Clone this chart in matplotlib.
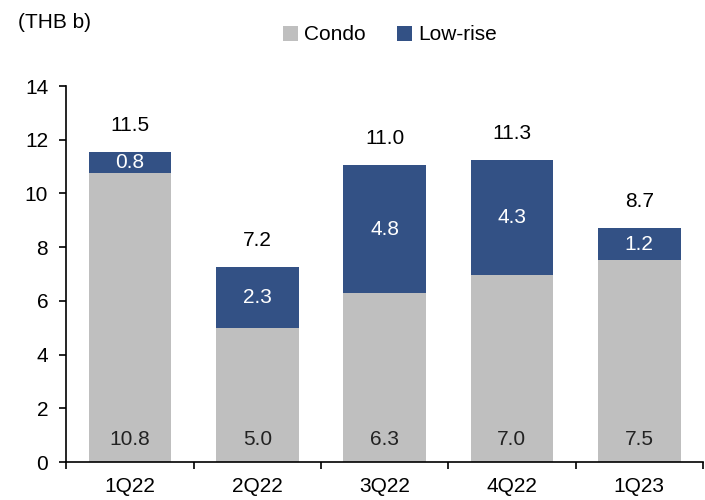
import numpy as np
import matplotlib.pyplot as plt

plt.rcParams['font.family'] = ['Liberation Sans', 'DejaVu Sans']

# Datos
quarters = ['1Q22', '2Q22', '3Q22', '4Q22', '1Q23']
condo = [10.76, 4.98, 6.29, 6.97, 7.52]
lowrise = [0.77, 2.27, 4.75, 4.26, 1.19]
totals = [11.5, 7.2, 11.0, 11.3, 8.7]

c_condo = '#BFBFBF'
c_low = '#335185'

fig = plt.figure(figsize=(7.05, 5.0), dpi=100)
ax = fig.add_axes([0.094, 0.076, 0.903, 0.752])

x = np.arange(len(quarters))
w = 0.65
ax.bar(x, condo, w, color=c_condo, label='Condo')
ax.bar(x, lowrise, w, bottom=condo, color=c_low, label='Low-rise')

fs = 15
for i in range(len(x)):
    ax.text(x[i], 0.85, f'{condo[i]:.1f}', ha='center', va='center', fontsize=fs, color='#222222')
    ax.text(x[i], condo[i] + lowrise[i] / 2, f'{lowrise[i]:.1f}', ha='center', va='center',
            fontsize=fs, color='white')
    ax.text(x[i], condo[i] + lowrise[i] + 1.0, f'{totals[i]:.1f}', ha='center', va='center',
            fontsize=fs, color='black')

ax.set_xlim(-0.5, len(x) - 0.5)
ax.set_ylim(0, 14)
ax.set_yticks(range(0, 15, 2))
ax.set_xticks(x)
ax.set_xticklabels(quarters)
ax.set_xticks(np.arange(-0.5, len(x), 1), minor=True)
ax.tick_params(axis='x', which='major', length=0, labelsize=fs, pad=11)
ax.tick_params(axis='x', which='minor', length=5, width=1.2, direction='out')
ax.tick_params(axis='y', length=5, width=1.2, direction='out', labelsize=fs, pad=8)
ax.spines['top'].set_visible(False)
ax.spines['right'].set_visible(False)
ax.spines['left'].set_linewidth(1.2)
ax.spines['bottom'].set_linewidth(1.2)

fig.text(0.026, 0.955, '(THB b)', fontsize=fs, va='center', ha='left')
fig.legend(loc='center', bbox_to_anchor=(0.553, 0.93), ncol=2, frameon=False, fontsize=fs,
           handlelength=0.7, handleheight=0.7, handletextpad=0.3, columnspacing=1.5)

fig.savefig('out.png', dpi=100)
